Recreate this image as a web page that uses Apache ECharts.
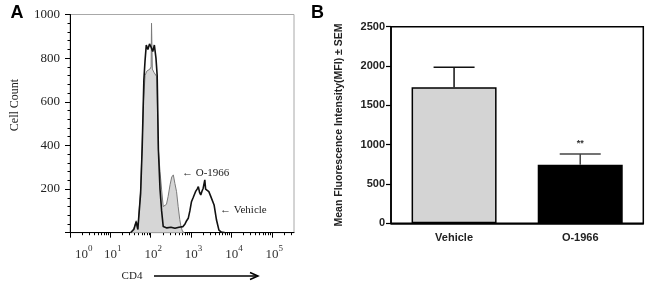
<!DOCTYPE html>
<html>
<head>
<meta charset="utf-8">
<script src="https://cdn.jsdelivr.net/npm/echarts@6/dist/echarts.min.js"></script>
<style>
	html, body { margin: 0; padding: 0; background: #fff; }
	#main { width: 650px; height: 290px; }
</style>
</head>
<body>
<div id="main"></div>
<script>
/* A: CD4 histogram, x = log10(CD4), y = cell count */
var cd4Exp = [0, 1, 2, 3, 4, 5];
var countTicks = [0, 200, 400, 600, 800, 1000];

var o1966Hist = [
	[1.50,0],[1.58,15],[1.64,55],[1.68,15],[1.71,10],[1.75,200],[1.79,420],[1.82,600],
	[1.86,720],[1.90,740],[1.94,735],[1.98,750],[2.01,760],[2.02,960],[2.04,750],[2.08,735],
	[2.12,730],[2.15,715],[2.19,380],[2.23,280],[2.27,196],[2.31,120],[2.35,112],[2.39,130],
	[2.43,165],[2.48,220],[2.52,255],[2.56,265],[2.60,225],[2.64,188],[2.68,120],[2.72,60],
	[2.75,28],[2.79,5],[2.84,0]
];
var vehicleHist = [
	[1.50,0],[1.58,15],[1.64,50],[1.68,15],[1.71,10],[1.75,180],[1.79,400],[1.83,700],
	[1.86,790],[1.89,860],[1.93,840],[1.97,865],[2.01,850],[2.05,830],[2.09,860],[2.13,800],
	[2.16,720],[2.19,380],[2.23,200],[2.27,100],[2.31,28],[2.40,22],[2.50,25],[2.60,20],
	[2.70,25],[2.80,28],[2.85,40],[2.89,55],[2.93,66],[2.97,100],[3.01,142],[3.05,160],
	[3.11,188],[3.15,200],[3.18,211],[3.21,185],[3.24,173],[3.27,190],[3.30,204],[3.34,242],
	[3.36,200],[3.38,196],[3.44,188],[3.48,170],[3.51,165],[3.57,127],[3.63,58],[3.69,12],
	[3.75,3],[3.85,0]
];

/* B: MFI bar chart */
var groups = ["Vehicle", "O-1966"];
var mfiMean = [1730, 746];
var mfiSem = [255, 136];
var sigMarks = ["", "**"];

var SERIF = "'Liberation Serif', 'Times New Roman', serif";
var SANS = "'Liberation Sans', Arial, sans-serif";

// log minor ticks 2..9 in every decade
var minorTicks = [];
for (var n = 0; n < 6; n++) {
	for (var k = 2; k < 10; k++) {
		var v = n + Math.log10(k);
		if (v < 5.55) minorTicks.push(v);
	}
}

var errData = groups.map(function(g, i){
	return [i, mfiMean[i], mfiMean[i] + mfiSem[i], sigMarks[i]];
});

var plain = function(v){ return String(v); };

var chart = echarts.init(document.getElementById("main"));

var option = {
	animation: false,
	backgroundColor: "#fff",
	grid: [
		{ left: 70, top: 14.5, width: 224, height: 218.2, show: true, borderColor: "#a8a8a8", borderWidth: 1 },
		{ left: 391, top: 26.7, width: 252.3, height: 196.6, show: true, borderColor: "#000", borderWidth: 1.5 }
	],
	xAxis: [
		{
			type: "value", gridIndex: 0, position: "bottom", min: 0, max: 5.55,
			splitLine: { show: false },
			axisLine: { lineStyle: { color: "#000", width: 1 } },
			axisTick: { customValues: cd4Exp, length: 5, lineStyle: { color: "#000" } },
			axisLabel: {
				customValues: cd4Exp, margin: 11, alignMinLabel: "left",
				formatter: function(v){ return "{b|10}{s|" + v + "}"; },
				rich: {
					b: { fontFamily: SERIF, fontSize: 13, color: "#333", lineHeight: 22, padding: [0, 0, 0, 5] },
					s: { fontFamily: SERIF, fontSize: 9, color: "#333", lineHeight: 8, verticalAlign: "top" }
				}
			}
		},
		{
			type: "value", gridIndex: 0, position: "bottom", min: 0, max: 5.55,
			splitLine: { show: false },
			axisLine: { show: false },
			axisTick: { customValues: minorTicks, length: 2.5, lineStyle: { color: "#000" } },
			axisLabel: { show: false }
		},
		{
			type: "category", gridIndex: 1, data: groups,
			axisLine: { lineStyle: { color: "#000", width: 1.5 } },
			axisTick: { show: false },
			axisLabel: { margin: 9, fontFamily: SANS, fontWeight: "bold", fontSize: 11, color: "#222" }
		}
	],
	yAxis: [
		{
			type: "value", gridIndex: 0, min: 0, max: 1000, interval: 200,
			splitLine: { show: false },
			axisLine: { show: true, lineStyle: { color: "#000", width: 1 } },
			axisTick: { show: true, length: 5, lineStyle: { color: "#000" } },
			minorTick: { show: true, splitNumber: 5, length: 2.5, lineStyle: { color: "#000" } },
			axisLabel: { showMinLabel: false, formatter: plain, margin: 10, fontFamily: SERIF, fontSize: 13, color: "#222" }
		},
		{
			type: "value", gridIndex: 1, min: 0, max: 2500, interval: 500,
			splitLine: { show: false },
			axisLine: { show: true, lineStyle: { color: "#000", width: 1.5 } },
			axisTick: { show: true, length: 5, lineStyle: { color: "#000", width: 1.2 } },
			axisLabel: { formatter: plain, margin: 6, fontFamily: SANS, fontWeight: "bold", fontSize: 11, color: "#222" },
			name: "Mean Fluorescence Intensity(MFI) \u00b1 SEM",
			nameLocation: "middle", nameGap: 46, nameRotate: 90,
			nameTextStyle: { fontFamily: SANS, fontWeight: "bold", fontSize: 10.5, color: "#222" }
		}
	],
	series: [
		{
			name: "O-1966", type: "line", xAxisIndex: 0, yAxisIndex: 0,
			data: o1966Hist, showSymbol: false, z: 2,
			lineStyle: { color: "#7a7a7a", width: 1 },
			areaStyle: { color: "#d6d6d6", opacity: 1 }
		},
		{
			name: "Vehicle", type: "line", xAxisIndex: 0, yAxisIndex: 0,
			data: vehicleHist, showSymbol: false, z: 3,
			lineStyle: { color: "#111", width: 1.6 }
		},
		{
			name: "MFI", type: "bar", xAxisIndex: 2, yAxisIndex: 1,
			barWidth: 85,
			data: mfiMean.map(function(v, i){
				return {
					value: v,
					itemStyle: i == 0
						? { color: "#d4d4d4", borderColor: "#000", borderWidth: 1.5 }
						: { color: "#000", borderColor: "#000", borderWidth: 1.5 }
				};
			})
		},
		{
			name: "SEM", type: "custom", xAxisIndex: 2, yAxisIndex: 1, z: 5,
			data: errData,
			renderItem: function(params, api){
				var base = api.coord([api.value(0), api.value(1)]);
				var top = api.coord([api.value(0), api.value(2)]);
				var half = 20.5;
				var col = params.dataIndex == 0 ? "#111" : "#444";
				var mark = sigMarks[params.dataIndex];
				var kids = [
					{ type: "line", shape: { x1: base[0], y1: base[1], x2: top[0], y2: top[1] }, style: { stroke: col, lineWidth: 1.5 } },
					{ type: "line", shape: { x1: top[0] - half, y1: top[1], x2: top[0] + half, y2: top[1] }, style: { stroke: col, lineWidth: 1.5 } }
				];
				if (mark) {
					kids.push({ type: "text", x: top[0], y: top[1] - 10.5,
						style: { text: mark, fill: "#333", font: "bold 9px " + SANS, align: "center", verticalAlign: "middle" } });
				}
				return { type: "group", children: kids };
			}
		}
	],
	graphic: [
		{ type: "text", x: 17, y: 13, style: { text: "A", font: "bold 18px " + SANS, fill: "#000", align: "center", verticalAlign: "middle" } },
		{ type: "text", x: 317.5, y: 13, style: { text: "B", font: "bold 18px " + SANS, fill: "#000", align: "center", verticalAlign: "middle" } },
		{ type: "text", x: 15, y: 105, rotation: Math.PI / 2, style: { text: "Cell Count", font: "12px " + SERIF, fill: "#222", align: "center", verticalAlign: "middle" } },
		{ type: "text", x: 182, y: 173, style: { text: "\u2190 O-1966", font: "11px " + SERIF, fill: "#222", align: "left", verticalAlign: "middle" } },
		{ type: "text", x: 220, y: 210, style: { text: "\u2190 Vehicle", font: "11px " + SERIF, fill: "#222", align: "left", verticalAlign: "middle" } },
		{ type: "text", x: 132, y: 276, style: { text: "CD4", font: "11px " + SERIF, fill: "#222", align: "center", verticalAlign: "middle" } },
		{ type: "line", shape: { x1: 154, y1: 276, x2: 256, y2: 276 }, style: { stroke: "#000", lineWidth: 1.5 } },
		{ type: "polyline", shape: { points: [[250, 272.5], [258, 276], [250, 279.5]] }, style: { stroke: "#000", lineWidth: 1.5, fill: null } }
	]
};

chart.setOption(option);
</script>
</body>
</html>
